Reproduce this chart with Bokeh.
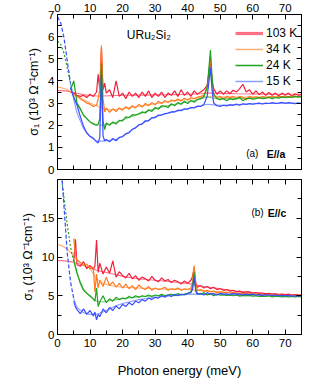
from bokeh.plotting import figure
from bokeh.models import (LinearAxis, FixedTicker, Range1d, Label, Legend, LegendItem)
from bokeh.layouts import column
from bokeh.embed import file_html
from bokeh.resources import INLINE

# ---------------- data: panel (a) E//a ----------------
E_a = [4, 5, 6, 7, 8, 9, 10, 11, 12, 12.5, 13, 13.5, 14, 14.5,
       15, 16, 17, 18, 19, 20, 21, 22, 23, 24, 25, 26, 27, 28, 29, 30,
       31, 32, 33, 34, 35, 36, 37, 38, 39, 40, 41, 42, 43, 44, 45, 46,
       46.5, 47, 47.5,
       48, 49, 50, 51, 52, 53, 54, 55, 56, 57, 58, 59, 60, 61, 62, 63,
       64, 65, 66, 67, 68, 69, 70, 71, 72, 73, 74, 75]

a_15K = [3.7, 3.25, 2.9, 2.4, 1.95, 1.65, 1.5, 1.42, 1.25,
         1.2, 1.45, 4.3, 1.5, 1.3,
         1.35, 1.25, 1.4, 1.3, 1.45, 1.48, 1.62, 1.65, 1.82, 1.88,
         2.02, 2.05, 2.2, 2.2, 2.34, 2.34, 2.46, 2.46, 2.53, 2.55,
         2.6, 2.6, 2.68, 2.66, 2.74, 2.72, 2.8, 2.78, 2.86, 2.85, 2.95, 3.3,
         3.9, 4.6, 3.6,
         3.0, 2.88, 2.85, 2.9, 2.87, 2.92, 2.9, 2.95, 2.9, 2.97,
         2.94, 2.98, 2.95, 2.98, 3.0, 2.96, 3.0, 2.98, 3.02, 2.99,
         3.0, 3.03, 2.99, 3.02, 3.0, 2.97, 3.0, 2.98]
a_24K = [3.6, 4.0, 3.0, 2.75, 2.45, 2.3, 2.15, 2.05, 2.0,
         2.05, 2.3, 4.8, 2.2, 1.8,
         2.1, 2.0, 2.15, 2.05, 2.22, 2.2, 2.38, 2.35, 2.48, 2.46,
         2.52, 2.6, 2.55, 2.7, 2.62, 2.8, 2.72, 2.88, 2.86, 2.8,
         2.97, 2.88, 3.02, 2.94, 3.08, 2.98, 3.12, 3.04, 3.16, 3.2, 3.3, 3.7,
         4.5, 5.4, 4.2,
         3.4, 3.2, 3.15, 3.2, 3.1, 3.2, 3.15, 3.2, 3.25, 3.1,
         3.2, 3.22, 3.18, 3.2, 3.25, 3.2, 3.22, 3.25, 3.2, 3.25,
         3.22, 3.28, 3.25, 3.28, 3.25, 3.3, 3.28, 3.3]
a_34K = [3.5, 3.4, 3.3, 3.2, 3.1, 3.0, 2.95, 2.85, 2.9,
         3.2, 3.6, 5.6, 3.2, 2.6,
         2.78, 2.58, 2.74, 2.62, 2.78, 2.68, 2.84, 2.72, 2.88, 2.78,
         2.94, 2.82, 2.98, 2.88, 3.02, 2.92, 3.08, 2.98, 3.12, 3.02,
         3.14, 3.1, 3.18, 3.1, 3.22, 3.14, 3.24, 3.2, 3.26, 3.3, 3.35, 3.7,
         4.4, 5.1, 4.0,
         3.35, 3.25, 3.3, 3.2, 3.3, 3.25, 3.3, 3.2, 3.3, 3.25,
         3.15, 3.3, 3.25, 3.28, 3.22, 3.3, 3.25, 3.28, 3.3, 3.25,
         3.3, 3.28, 3.32, 3.28, 3.3, 3.32, 3.28, 3.3]
a_103K = [3.5, 3.45, 3.35, 3.3, 3.35, 3.25, 3.4, 3.3, 3.5,
          4.3, 3.6, 5.5, 3.6, 3.9,
          3.45, 3.6, 3.25, 4.0, 3.3, 3.45, 3.2, 3.5, 3.3, 3.45,
          3.25, 3.5, 3.3, 3.55, 3.25, 3.45, 3.3, 3.5, 3.25, 3.45,
          3.35, 3.55, 3.3, 3.6, 3.35, 3.5, 3.3, 3.55, 3.4, 3.5, 3.6, 3.8,
          4.3, 5.0, 4.0,
          3.65, 3.4, 3.55, 3.4, 3.55, 3.42, 3.58, 3.5, 3.65, 3.85,
          3.5, 3.6, 3.4, 3.55, 3.38, 3.5, 3.35, 3.48, 3.35, 3.45,
          3.32, 3.45, 3.35, 3.45, 3.3, 3.42, 3.35, 3.4]

# fits / low-energy extrapolations, panel (a); first 5 points (E <= 4) are extrapolation
F_a = [0, 1, 2, 3, 4, 5, 6, 8, 10, 12, 14, 16, 18, 20, 25, 30, 35, 40, 44, 46,
       48, 50, 55, 60, 65, 70, 75]
fa_15K = [6.9, 6.62, 5.95, 4.9, 3.9, 3.15, 2.55, 1.85, 1.48, 1.28, 1.28, 1.32, 1.36,
          1.5, 2.0, 2.38, 2.58, 2.75, 2.87, 2.95, 2.92, 2.9, 2.93, 2.96, 2.98, 2.99, 3.0]
fa_24K = [5.8, 5.65, 5.25, 4.6, 3.85, 3.3, 2.95, 2.45, 2.15, 2.02, 2.0, 2.05, 2.12,
          2.25, 2.5, 2.75, 2.92, 3.05, 3.18, 3.28, 3.22, 3.2, 3.2, 3.22, 3.24, 3.26, 3.28]
fa_34K = [3.72, 3.7, 3.66, 3.6, 3.52, 3.42, 3.33, 3.15, 3.0, 2.88, 2.75, 2.7, 2.72,
          2.75, 2.86, 2.97, 3.08, 3.16, 3.25, 3.3, 3.28, 3.27, 3.27, 3.27, 3.28, 3.3, 3.3]
fa_103K = [3.56, 3.56, 3.55, 3.54, 3.52, 3.48, 3.44, 3.38, 3.34, 3.32, 3.32, 3.33, 3.34,
           3.35, 3.36, 3.37, 3.38, 3.4, 3.42, 3.45, 3.45, 3.44, 3.42, 3.41, 3.4, 3.4, 3.4]
NLO_A = 5

# ---------------- data: panel (b) E//c ----------------
E_b = [5, 5.5, 6, 7, 8, 9, 10, 11, 11.5, 12, 12.5,
       13, 14, 15, 16, 17, 18, 19, 20, 21, 22, 23, 24, 25, 26, 27, 28, 29, 30,
       31, 32, 33, 34, 35, 36, 37, 38, 39, 40, 41,
       41.5, 42, 42.5,
       43, 44, 45, 46, 47, 48, 49, 50, 51, 52, 53, 54, 55, 56, 57, 58, 59, 60,
       61, 62, 63, 64, 65, 66, 67, 68, 69, 70, 71, 72, 73, 74, 75]

b_15K = [4.3, 3.6, 3.2, 2.7, 3.3, 2.6, 3.1, 2.4, 2.9, 1.9, 2.6,
         2.3, 3.3, 2.8, 3.5, 3.1, 3.7, 3.3, 3.9, 3.6, 4.1,
         3.8, 4.3, 4.1, 4.5, 4.3, 4.7, 4.5, 4.8, 4.7, 5.0,
         4.8, 5.1, 4.9, 5.2, 5.0, 5.2, 5.1, 5.3, 5.4,
         5.8, 7.4, 5.6,
         5.2, 5.3, 5.1, 5.4, 5.2, 5.3, 5.1, 5.3, 5.2, 5.25,
         5.15, 5.3, 5.2, 5.25, 5.1, 5.2, 5.15, 5.2, 5.1, 5.15,
         5.05, 5.15, 5.1, 5.05, 5.1, 5.0, 5.05, 5.0, 5.05, 4.95,
         5.0, 4.95, 5.0]
b_24K = [9.6, 8.8, 8.0, 6.6, 5.7, 5.3, 5.0, 4.6, 4.3, 6.0, 3.6,
         4.2, 5.0, 4.1, 4.6, 4.3, 4.8, 4.5, 4.7, 4.6, 4.9,
         4.7, 5.0, 4.8, 5.0, 4.9, 5.1, 4.9, 5.1, 5.0, 5.2,
         5.0, 5.1, 5.2, 5.0, 5.3, 5.1, 5.2, 5.3, 5.5,
         6.2, 8.0, 5.8,
         5.3, 5.2, 5.4, 5.1, 5.3, 5.0, 5.2, 5.1, 5.15, 5.05,
         5.1, 5.0, 5.1, 4.95, 5.05, 5.0, 5.05, 4.95, 5.0, 4.9,
         4.95, 4.9, 5.0, 4.85, 4.95, 4.9, 4.85, 4.9, 4.85, 4.9,
         4.85, 4.9, 4.85]
b_34K = [12.4, 10.3, 9.6, 9.3, 8.9, 9.1, 8.5, 8.7, 5.5, 7.8, 6.0,
         7.0, 6.2, 7.4, 6.3, 6.8, 6.1, 6.6, 6.0, 6.5, 5.9,
         6.3, 5.8, 6.4, 6.0, 5.8, 6.2, 5.7, 6.0, 5.8, 5.9,
         6.1, 5.7, 5.9, 5.8, 6.0, 5.7, 5.9, 5.8, 6.0,
         6.8, 8.9, 6.5,
         5.7, 5.8, 5.6, 5.7, 5.5, 5.6, 5.4, 5.5, 5.4, 5.45,
         5.35, 5.4, 5.3, 5.35, 5.25, 5.3, 5.2, 5.25, 5.2, 5.15,
         5.2, 5.1, 5.15, 5.1, 5.05, 5.1, 5.05, 5.0, 5.05, 5.0,
         5.05, 5.0, 5.0]
b_103K = [9.5, 12.3, 9.0, 8.8, 9.4, 8.5, 8.9, 8.4, 8.8, 12.2, 8.0,
          9.2, 7.8, 8.7, 7.9, 9.5, 7.4, 8.1, 7.6, 7.3, 7.9,
          7.2, 7.6, 7.0, 7.4, 7.2, 6.9, 7.5, 7.0, 6.8, 7.3,
          6.9, 7.1, 6.7, 7.0, 6.8, 6.5, 6.9, 6.6, 7.0,
          7.5, 8.6, 6.6,
          6.1, 6.3, 6.0, 6.2, 5.9, 6.1, 5.8, 5.9, 5.7, 5.8,
          5.6, 5.7, 5.5, 5.6, 5.4, 5.5, 5.5, 5.3, 5.4, 5.3,
          5.35, 5.25, 5.3, 5.2, 5.25, 5.15, 5.2, 5.15, 5.2, 5.1,
          5.15, 5.1, 5.1]

F_b = [0, 1, 1.5, 2, 3, 4, 5, 6, 8, 10, 12, 14, 16, 18, 20, 25, 30, 35, 40, 45,
       50, 55, 60, 65, 70, 75]
fb_15K = [26, 22, 19.5, 16.5, 10.5, 6.8, 4.6, 3.5, 2.8, 2.6, 2.6, 2.9, 3.3, 3.7, 4.0,
          4.5, 4.8, 5.0, 5.2, 5.2, 5.2, 5.15, 5.1, 5.05, 5.0, 5.0]
fb_24K = [25, 21.5, 19.4, 17.6, 14.2, 11.3, 9.4, 7.8, 5.9, 4.9, 4.3, 4.2, 4.35, 4.5,
          4.65, 4.85, 5.0, 5.1, 5.2, 5.2, 5.1, 5.05, 5.0, 4.95, 4.9, 4.9]
fb_34K = [11.65, 11.5, 11.4, 11.3, 11.0, 10.6, 10.1, 9.6, 9.0, 8.5, 7.2, 6.6, 6.35,
          6.2, 6.1, 6.0, 5.9, 5.85, 5.8, 5.6, 5.5, 5.35, 5.25, 5.15, 5.1, 5.05]
fb_103K = [9.55, 9.53, 9.52, 9.5, 9.45, 9.4, 9.32, 9.2, 8.9, 8.6, 8.3, 8.1, 7.9, 7.7,
           7.5, 7.2, 7.0, 6.8, 6.6, 6.2, 5.9, 5.6, 5.4, 5.25, 5.15, 5.1]
NLO_B = 7

labels = ["103 K", "34 K", "24 K", "15 K"]
x_ticks = [0, 10, 20, 30, 40, 50, 60, 70]
x_minor = [5, 15, 25, 35, 45, 55, 65, 75]
ya_ticks = [0, 1, 2, 3, 4, 5, 6, 7]
ya_minor = [0.5, 1.5, 2.5, 3.5, 4.5, 5.5, 6.5]
yb_ticks = [0, 5, 10, 15]
yb_minor = [2.5, 7.5, 12.5, 17.5]

# ---------------- styles ----------------
COL = {"103 K": "#f2203c", "34 K": "#ff7a1c", "24 K": "#1fa21f", "15 K": "#3a4cff"}
FIT = {"103 K": "#ff6f86", "34 K": "#ffae78", "24 K": "#7fcf7f", "15 K": "#8c9cff"}
LO_DASH = {"103 K": "solid", "34 K": "solid", "24 K": "2 2", "15 K": "4 2"}
FONT = "Liberation Sans"


def style_axis(ax, show):
    ax.axis_line_color = "black"
    ax.major_tick_line_color = "black"
    ax.minor_tick_line_color = "black"
    ax.major_tick_in = 5
    ax.major_tick_out = 0
    ax.minor_tick_in = 4
    ax.minor_tick_out = 0
    ax.major_label_text_font = FONT
    ax.major_label_text_color = "black"
    ax.axis_label_text_font = FONT
    ax.axis_label_text_font_style = "normal"
    ax.axis_label_text_color = "black"
    if show:
        ax.major_label_text_font_size = "11.5px"
        ax.major_label_standoff = 3
    else:
        ax.major_label_text_font_size = "0px"
        ax.major_label_standoff = 0


def make_fig(ymax, yt, ymt, top_lab, bot_lab, btop, bbot):
    p = figure(frame_width=244, frame_height=155,
               x_range=Range1d(0, 75), y_range=Range1d(0, ymax),
               x_axis_location=None, y_axis_location=None,
               output_backend="svg", toolbar_location=None,
               min_border_left=57, min_border_right=4,
               min_border_top=btop, min_border_bottom=bbot)
    p.grid.visible = False
    p.outline_line_color = "black"
    p.background_fill_color = "white"
    for loc, show in (("above", top_lab), ("below", bot_lab)):
        ax = LinearAxis(ticker=FixedTicker(ticks=x_ticks, minor_ticks=x_minor))
        style_axis(ax, show)
        p.add_layout(ax, loc)
    for loc, show in (("left", True), ("right", False)):
        ax = LinearAxis(ticker=FixedTicker(ticks=yt, minor_ticks=ymt))
        style_axis(ax, show)
        if loc == "left":
            ax.axis_label = "σ₁ (10³ Ω⁻¹cm⁻¹)"
            ax.axis_label_text_font_size = "12.5px"
            ax.axis_label_standoff = 4
        p.add_layout(ax, loc)
    return p


def draw(p, E, data, F, fits, nlo):
    for lab in labels:
        f = fits[lab]
        p.line(F[:nlo], f[:nlo], line_color=COL[lab] if LO_DASH[lab] != "solid" else FIT[lab],
               line_width=1.2, line_dash=LO_DASH[lab])
        p.line(F[nlo - 1:], f[nlo - 1:], line_color=FIT[lab], line_width=1.1)
    for lab in labels:
        p.line(E, data[lab], line_color=COL[lab], line_width=1.2)


# ---------------- panel (a) ----------------
p1 = make_fig(7, ya_ticks, ya_minor, True, False, 14, 8)
fits_a = {"103 K": fa_103K, "34 K": fa_34K, "24 K": fa_24K, "15 K": fa_15K}
draw(p1, E_a, {"103 K": a_103K, "34 K": a_34K, "24 K": a_24K, "15 K": a_15K},
     F_a, fits_a, NLO_A)

# legend swatches: one-point renderers (draw nothing in the plot, only in the legend)
leg_styles = {"103 K": (FIT["103 K"], 3.2), "34 K": (FIT["34 K"], 1.5),
              "24 K": (COL["24 K"], 1.5), "15 K": (FIT["15 K"], 1.5)}
items = []
for lab in labels:
    c, w = leg_styles[lab]
    r = p1.line(F_a[:1], fits_a[lab][:1], line_color=c, line_width=w)
    items.append(LegendItem(label=lab, renderers=[r]))
legend = Legend(items=items, location=(178, 81), border_line_color=None,
                background_fill_alpha=0, padding=4, spacing=2, margin=0,
                label_height=14, glyph_width=28, glyph_height=14, label_standoff=3,
                label_text_font=FONT, label_text_font_size="12px", label_text_color="black")
p1.add_layout(legend)

p1.add_layout(Label(x=21.3, y=6.07, text="URu₂Si₂", text_font=FONT, text_font_size="12px",
                    text_baseline="middle", text_color="black"))
p1.add_layout(Label(x=58.0, y=0.72, text="(a)", text_font=FONT, text_font_size="10px",
                    text_baseline="middle", text_color="black"))
p1.add_layout(Label(x=64.3, y=0.72, text="E//a", text_font=FONT, text_font_size="10.5px",
                    text_font_style="bold", text_baseline="middle", text_color="black"))

# ---------------- panel (b) ----------------
p2 = make_fig(20, yb_ticks, yb_minor, False, True, 2, 0)
draw(p2, E_b, {"103 K": b_103K, "34 K": b_34K, "24 K": b_24K, "15 K": b_15K},
     F_b, {"103 K": fb_103K, "34 K": fb_34K, "24 K": fb_24K, "15 K": fb_15K}, NLO_B)
p2.below[0].axis_label = "Photon energy (meV)"
p2.below[0].axis_label_text_font_size = "13px"
p2.below[0].axis_label_standoff = 13
p2.below[0].major_label_standoff = 4

p2.add_layout(Label(x=59.6, y=15.7, text="(b)", text_font=FONT, text_font_size="10px",
                    text_baseline="middle", text_color="black"))
p2.add_layout(Label(x=64.6, y=15.7, text="E//c", text_font=FONT, text_font_size="10.5px",
                    text_font_style="bold", text_baseline="middle", text_color="black"))

layout = column(p1, p2, spacing=0)
open("out.html", "w").write(file_html(layout, INLINE))
